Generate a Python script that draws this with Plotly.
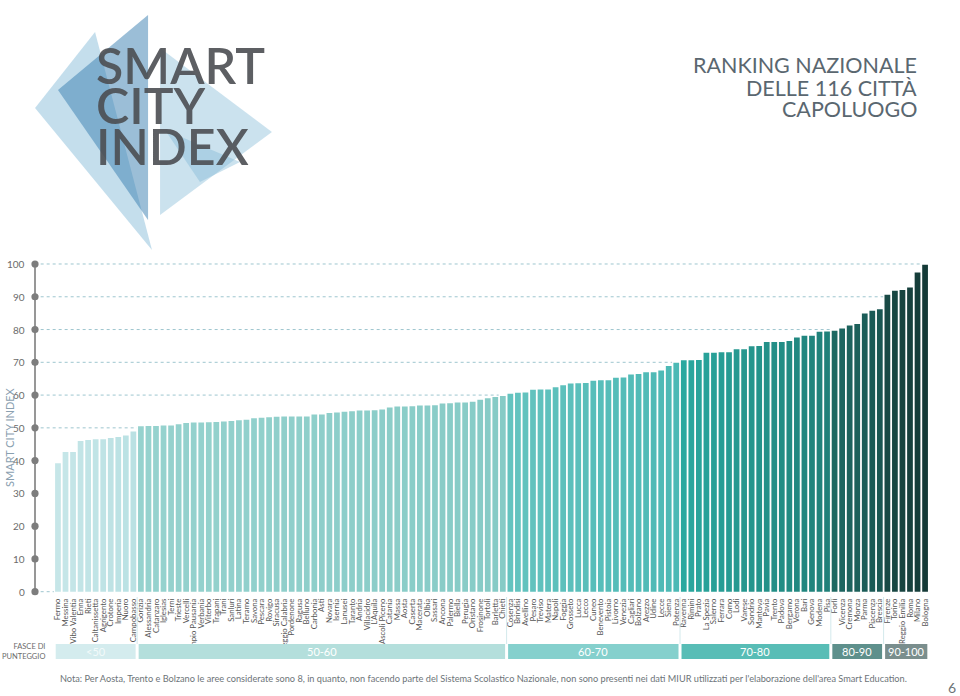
import plotly.graph_objects as go

# ---------------- data ----------------
cities = [
    "Fermo", "Messina", "Vibo Valentia", "Enna", "Rieti", "Caltanissetta", "Agrigento", "Crotone",
    "Imperia", "Nuoro", "Campobasso", "Gorizia", "Alessandria", "Catanzaro", "Iglesias", "Terni",
    "Trieste", "Vercelli", "Tempio Pausania", "Verbania", "Viterbo", "Trapani", "Trani", "Sanluri",
    "Latina", "Teramo", "Savona", "Pescara", "Rovigo", "Siracusa", "Reggio Calabria", "Pordenone",
    "Ragusa", "Belluno", "Carbonia", "Asti", "Novara", "Isernia", "Lanusei", "Taranto",
    "Andria", "Villacidro", "L'Aquila", "Ascoli Piceno", "Catania", "Massa", "Aosta", "Caserta",
    "Macerata", "Olbia", "Sassari", "Ancona", "Palermo", "Biella", "Perugia", "Oristano",
    "Frosinone", "Tortolì", "Barletta", "Chieti", "Cosenza", "Brindisi", "Avellino", "Pesaro",
    "Treviso", "Matera", "Napoli", "Foggia", "Grosseto", "Lucca", "Lecco", "Cuneo",
    "Benevento", "Pistoia", "Livorno", "Venezia", "Cagliari", "Bolzano", "Arezzo", "Udine",
    "Lecce", "Siena", "Potenza", "Ravenna", "Rimini", "Prato", "La Spezia", "Salerno",
    "Ferrara", "Como", "Lodi", "Varese", "Sondrio", "Mantova", "Pavia", "Trento",
    "Padova", "Bergamo", "Verona", "Bari", "Genova", "Modena", "Pisa", "Forlì",
    "Vicenza", "Cremona", "Monza", "Parma", "Piacenza", "Brescia", "Firenze", "Torino",
    "Reggio Emilia", "Roma", "Milano", "Bologna",
]
scores = [
    39.2, 42.6, 42.6, 46.0, 46.3, 46.5, 46.5, 46.9, 47.2, 47.7, 48.9,
    50.5, 50.6, 50.6, 50.7, 50.7, 51.1, 51.5, 51.6, 51.6, 51.7, 51.8, 51.9, 52.1,
    52.3, 52.5, 52.9, 53.1, 53.2, 53.4, 53.5, 53.5, 53.5, 53.5, 54.1, 54.1,
    54.5, 54.7, 54.9, 55.1, 55.3, 55.3, 55.4, 55.6, 56.2, 56.5, 56.5, 56.6,
    56.8, 56.8, 56.9, 57.4, 57.5, 57.7, 57.7, 58.0, 58.6, 59.0, 59.4, 59.7,
    60.4, 60.7, 60.8, 61.6, 61.7, 61.7, 62.4, 63.0, 63.5, 63.6, 63.7, 64.4,
    64.5, 64.5, 65.3, 65.4, 66.3, 66.4, 67.0, 67.0, 67.5, 68.9, 69.9,
    70.6, 70.6, 70.7, 72.9, 72.9, 73.1, 73.1, 74.0, 74.0, 74.9, 75.0, 76.2,
    76.2, 76.2, 76.5, 77.6, 78.1, 78.1, 79.3, 79.4,
    79.6, 80.3, 81.2, 81.7, 84.9, 85.7, 86.2,
    90.6, 91.8, 92.1, 92.8, 97.4, 99.8,
]
band_labels = ["<50", "50-60", "60-70", "70-80", "80-90", "90-100"]
band_counts = [11, 49, 23, 20, 7, 6]
y_ticks = [0, 10, 20, 30, 40, 50, 60, 70, 80, 90, 100]
grid_levels = [0, 50, 60, 70, 80, 90, 100]
title_lines = ["RANKING NAZIONALE", "DELLE 116 CITTÀ", "CAPOLUOGO"]
logo_lines = ["SMART", "CITY", "INDEX"]

# ---------------- styles ----------------
band_bar_colors = [("#c6e6e8", "#bae1e3"), ("#96d2ce", "#86cbc6"), ("#64c3bf", "#4cb9b5"),
                   ("#2aa89f", "#1f8079"), ("#1d6862", "#1a5753"), ("#194a46", "#143a37")]
band_fill_colors = ["#d4ecee", "#b4dfdc", "#85d0cd", "#58bdb6", "#5e908c", "#7a8e8d"]
FONT = "Lato"

W, H = 960, 696
PX_PER_BAR = 7.54
FIRST_EDGE = 54.2
AXIS_PX = 35
Y0PX, Y100PX = 591.7, 264.0
PAD = 1.3


def hex2rgb(h):
    h = h.lstrip("#")
    return tuple(int(h[i:i + 2], 16) for i in (0, 2, 4))


def lerp(c1, c2, t):
    a, b = hex2rgb(c1), hex2rgb(c2)
    return "rgb(%d,%d,%d)" % tuple(round(a[i] + (b[i] - a[i]) * t) for i in range(3))


n = len(cities)
colors = []
for bi, cnt in enumerate(band_counts):
    for j in range(cnt):
        t = j / (cnt - 1) if cnt > 1 else 0
        colors.append(lerp(band_bar_colors[bi][0], band_bar_colors[bi][1], t))

x_lo = -0.5 - FIRST_EDGE / PX_PER_BAR
x_hi = n - 0.5
x_dom_right = (FIRST_EDGE + n * PX_PER_BAR) / W
axis_x = -0.5 - (FIRST_EDGE - AXIS_PX) / PX_PER_BAR
ppu = (Y0PX - Y100PX) / 100
y_dom = [1 - (Y0PX + PAD * ppu) / H, 1 - (Y100PX - PAD * ppu) / H]


def py(px):
    return 1 - px / H


fig = go.Figure()
fig.add_trace(go.Bar(x=cities, y=scores, marker=dict(color=colors, line=dict(width=0)),
                     width=0.76, hoverinfo="x+y"))

shapes = []
annotations = []

# vertical axis line and dots
shapes.append(dict(type="line", xref="x", yref="y", x0=axis_x, x1=axis_x, y0=0, y1=100,
                   line=dict(color="#7d7d7d", width=1.6), layer="above"))
for t in y_ticks:
    shapes.append(dict(type="circle", xref="x", yref="y", xsizemode="pixel", ysizemode="pixel",
                       xanchor=axis_x, yanchor=t, x0=-3.6, x1=3.6, y0=-3.6, y1=3.6,
                       fillcolor="#7d7d7d", line=dict(width=0), layer="above"))
    annotations.append(dict(xref="x", yref="y", x=axis_x - 1.05, y=t, text=str(t), showarrow=False,
                            xanchor="right", yanchor="middle",
                            font=dict(family=FONT, size=10, color="#6b6b6b")))

# dotted grid lines that stop at the first bar reaching the level
for g in grid_levels:
    k = next((i for i, v in enumerate(scores) if v >= g - 0.5), n)
    shapes.append(dict(type="line", xref="x", yref="y", x0=axis_x + 0.75, x1=k - 0.55, y0=g, y1=g,
                       line=dict(color="#9ec6cf", width=1, dash="dot"), layer="below"))

# score bands row
start = 0
band_y0, band_y1 = py(659), py(644)
for bi, cnt in enumerate(band_counts):
    end = start + cnt - 1
    shapes.append(dict(type="rect", xref="x", yref="paper", x0=start - 0.5 + 0.2, x1=end + 0.5 - 0.2,
                       y0=band_y0, y1=band_y1, fillcolor=band_fill_colors[bi], line=dict(width=0)))
    annotations.append(dict(xref="x", yref="paper", x=(start + end) / 2, y=(band_y0 + band_y1) / 2,
                            text=band_labels[bi], showarrow=False, xanchor="center", yanchor="middle",
                            font=dict(family=FONT, size=11, color="#ffffff" if bi else "#f2fafa")))
    if bi > 0:
        shapes.append(dict(type="line", xref="x", yref="paper", x0=start - 0.5, x1=start - 0.5,
                           y0=py(644), y1=py(597), line=dict(color="#d3e9ec", width=1)))
    start = end + 1

annotations.append(dict(xref="paper", yref="paper", x=47 / W, y=py(651), text="FASCE DI<br>PUNTEGGIO",
                        showarrow=False, xanchor="right", yanchor="middle", align="right",
                        font=dict(family=FONT, size=7.5, color="#6b6b6b")))

# y axis title
annotations.append(dict(xref="paper", yref="paper", x=9 / W, y=py(437), text="SMART CITY INDEX",
                        textangle=-90, showarrow=False, xanchor="center", yanchor="middle",
                        font=dict(family=FONT, size=11, color="#8aa0b0")))

# title (one annotation per line for tight spacing)
for txt, yc in zip(title_lines, [64, 87, 109]):
    annotations.append(dict(xref="paper", yref="paper", x=919 / W, y=py(yc), text=txt,
                            showarrow=False, xanchor="right", yanchor="middle", height=21,
                            font=dict(family=FONT, size=21.5, color="#5a6770")))


# logo triangles
def tri(pts, color):
    path = "M " + " L ".join("%.4f,%.4f" % (x / W, py(y)) for x, y in pts) + " Z"
    return dict(type="path", xref="paper", yref="paper", path=path, fillcolor=color,
                line=dict(width=0), layer="above")


shapes.append(tri([(35, 108), (95, 32), (152, 250)], "rgba(125,182,212,0.45)"))
shapes.append(tri([(58, 90), (148, 15), (148, 220)], "rgba(55,125,175,0.50)"))
shapes.append(tri([(160, 48), (160, 215), (272, 132)], "rgba(125,182,212,0.40)"))
shapes.append(tri([(165, 130), (240, 162), (200, 182)], "rgba(125,182,212,0.40)"))

for txt, yc in zip(logo_lines, [65, 105, 146]):
    annotations.append(dict(xref="paper", yref="paper", x=94 / W, y=py(yc), text=txt, showarrow=False,
                            xanchor="left", yanchor="middle", height=38,
                            font=dict(family=FONT, size=50, color="rgba(75,78,82,0.9)", weight=600)))

# note & page number
annotations.append(dict(xref="paper", yref="paper", x=58 / W, y=py(678),
                        text="Nota: Per Aosta, Trento e Bolzano le aree considerate sono 8, in quanto, non facendo parte "
                             "del Sistema Scolastico Nazionale, non sono presenti nei dati MIUR utilizzati per "
                             "l'elaborazione dell'area Smart Education.",
                        showarrow=False, xanchor="left", yanchor="middle",
                        font=dict(family=FONT, size=9.2, color="#6d7478")))
annotations.append(dict(xref="paper", yref="paper", x=952 / W, y=py(687), text="6", showarrow=False,
                        xanchor="center", yanchor="middle", height=16,
                        font=dict(family=FONT, size=14, color="#6d7478")))

fig.update_layout(
    width=W, height=H, margin=dict(l=0, r=0, t=0, b=0),
    paper_bgcolor="white", plot_bgcolor="rgba(0,0,0,0)",
    showlegend=False, bargap=0.2,
    xaxis=dict(domain=[0, x_dom_right], range=[x_lo, x_hi], tickangle=-90, showgrid=False,
               tickmode="array", tickvals=cities, ticktext=cities,
               zeroline=False, showline=False, ticks="", tickfont=dict(family=FONT, size=7.8, color="#555"),
               automargin=False, fixedrange=True),
    yaxis=dict(domain=y_dom, range=[-PAD, 100 + PAD], showgrid=False, zeroline=False,
               showticklabels=False, showline=False, automargin=False, fixedrange=True),
    shapes=shapes, annotations=annotations,
)
fig.write_html("out.html")
